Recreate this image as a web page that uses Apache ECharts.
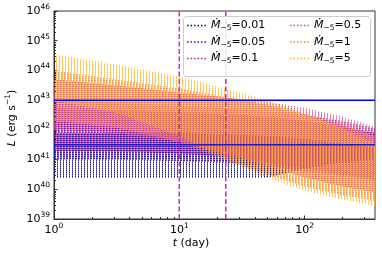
<!DOCTYPE html>
<html><head><meta charset="utf-8">
<script src="https://cdn.jsdelivr.net/npm/echarts@6/dist/echarts.min.js"></script>
<style>html,body{margin:0;padding:0;background:#fff}#c{width:382px;height:259px}</style>
</head><body><div id="c"></div>
<script>
// ---- data ----
const times = [1, 3, 10, 23, 50, 100, 200, 365];            // t (day)
const mdotLabels = ['0.01', '0.05', '0.1', '0.5', '1', '5'];   // Mdot_-5 values
// upper / lower envelope of each family of light curves, L in erg/s
const top_001 = [8e41, 8e41, 8e41, 7e41, 6.3e41, 5e41, 3.5e41, 2.5e41];
const bot_001 = [2.4e40, 2.4e40, 2.4e40, 2.4e40, 2.4e40, 5e40, 8e40, 1e41];
const top_005 = [5e42, 4.5e42, 4e42, 3.5e42, 2.8e42, 2e42, 1.25e42, 8e41];
const bot_005 = [1e41, 1e41, 9e40, 8e40, 6.3e40, 4e40, 2.8e40, 2e40];
const top_01  = [1e43, 8e42, 6.3e42, 5.2e42, 4.2e42, 3.2e42, 2e42, 1.15e42];
const bot_01  = [2e41, 1.9e41, 1.6e41, 1.25e41, 8e40, 5e40, 3.2e40, 2e40];
const top_05  = [5e43, 3.2e43, 1.8e43, 1.25e43, 9e42, 5.6e42, 2.8e42, 1.25e42];
const bot_05  = [1e42, 8e41, 4e41, 1.6e41, 6.3e40, 2.5e40, 1.25e40, 8e39];
const top_1   = [1e44, 5e43, 2.5e43, 1.3e43, 7e42, 3.5e42, 1.5e42, 6e41];
const bot_1   = [2e42, 1.25e42, 4e41, 1e41, 3.2e40, 1.25e40, 6.3e39, 4e39];
const top_5   = [3.5e44, 1.6e44, 6.3e43, 2.5e43, 1e43, 3.5e42, 1.1e42, 3.5e41];
const bot_5   = [1e43, 4e42, 6.3e41, 1e41, 2.5e40, 9e39, 4.5e39, 2.7e39];
const hLineValues = [1e43, 3.16e41];   // horizontal reference luminosities
const vLineValues = [10, 23.5];        // vertical reference times (day)
const xRange = [1, 365];
const yRange = [1e39, 1e46];

const tops = [top_001, top_005, top_01, top_05, top_1, top_5];
const bots = [bot_001, bot_005, bot_01, bot_05, bot_1, bot_5];
const colors = ['#0d0887', '#5c01a6', '#b52f9c', '#dc5580', '#f2844b', '#fdb32f'];
// column of each family inside the 3x2 dotted-stripe pattern
const cols = [0, 1, 2, 0, 1, 2];

// minor tick positions (axis decoration)
const xMinorTicks = [], yMinorTicks = [];
for (let d = 1; d <= 100; d *= 10) for (let m = 2; m <= 9; m++) if (m * d < xRange[1]) xMinorTicks.push(m * d);
for (let e = 39; e < 46; e++) for (let m = 2; m <= 9; m++) yMinorTicks.push(m * Math.pow(10, e));

function makePattern(color, col) {
  const cv = document.createElement('canvas');
  cv.width = 3; cv.height = 2;
  const ctx = cv.getContext('2d');
  ctx.fillStyle = color;
  ctx.globalAlpha = 0.9; ctx.fillRect(col, 0, 1, 1);
  ctx.globalAlpha = 0.55; ctx.fillRect(col, 1, 1, 1);
  return {type: 'pattern', image: cv, repeat: 'repeat'};
}

function bandSeries(i) {
  const pat = makePattern(colors[i], cols[i]);
  const tp = tops[i], bt = bots[i];
  return {
    type: 'custom', name: mdotLabels[i], coordinateSystem: 'cartesian2d',
    itemStyle: {color: colors[i]}, silent: true, clip: true, z: 2,
    data: [[times[0], tp[0]]],
    renderItem: function (params, api) {
      const pts = [];
      for (let k = 0; k < times.length; k++) pts.push(api.coord([times[k], tp[k]]));
      for (let k = times.length - 1; k >= 0; k--) pts.push(api.coord([times[k], bt[k]]));
      return {type: 'polygon', shape: {points: pts}, style: {fill: pat, stroke: null}};
    }
  };
}

function decadeLabel(v) {
  const l = Math.log10(v), e = Math.round(l);
  if (Math.abs(l - e) > 1e-6) return '';
  return '{b|10}{s|' + e + '}';
}
const tickRich = {
  b: {fontSize: 11, fontFamily: 'DejaVu Sans', color: '#000', lineHeight: 16},
  s: {fontSize: 7.5, fontFamily: 'DejaVu Sans', color: '#000', lineHeight: 8, verticalAlign: 'top'}
};
const legendRich = {
  m: {fontSize: 11, fontFamily: 'DejaVu Sans', fontStyle: 'italic', color: '#000', lineHeight: 14},
  s: {fontSize: 7.5, fontFamily: 'DejaVu Sans', color: '#000', lineHeight: 8, verticalAlign: 'bottom'},
  n: {fontSize: 11, fontFamily: 'DejaVu Sans', color: '#000', lineHeight: 14}
};
const dotIcon = 'path://M0,0h1.6v1.6h-1.6zM3.6,0h1.6v1.6h-1.6zM7.2,0h1.6v1.6h-1.6zM10.8,0h1.6v1.6h-1.6zM14.4,0h1.6v1.6h-1.6zM18,0h1.6v1.6h-1.6z';
function legendCfg(names, left) {
  return {
    data: names.map(n => ({name: n, icon: dotIcon})),
    orient: 'vertical', left: left, top: 20, padding: 0,
    itemWidth: 19, itemHeight: 2, itemGap: 4, itemStyle: {borderWidth: 0},
    formatter: n => '{m|Ṁ}{s|−5}{n|=' + n + '}',
    textStyle: {rich: legendRich}, z: 10, selectedMode: false
  };
}

const axisCommon = {
  type: 'log', logBase: 10,
  axisLine: {show: true, onZero: false, lineStyle: {color: '#333', width: 1}},
  axisTick: {show: true, inside: true, length: 3.5, lineStyle: {color: '#333'}},
  minorTick: {show: false},
  splitLine: {show: false}, minorSplitLine: {show: false},
};

const series = [];
for (let i = 0; i < 6; i++) series.push(bandSeries(i));
hLineValues.forEach((v, i) => series.push({
  type: 'line', data: [[xRange[0], v], [xRange[1], v]], symbol: 'none', silent: true, z: 4,
  lineStyle: {color: i === 0 ? '#0000ff' : '#1d1dc8', width: 1.5}
}));
vLineValues.forEach(v => series.push({
  type: 'line', data: [[v, yRange[0]], [v, yRange[1]]], symbol: 'none', silent: true, z: 4,
  lineStyle: {color: '#d41ed4', width: 1.5, type: [5, 2.5]}
}));
// minor ticks drawn through the axis scales
series.push({
  type: 'custom', coordinateSystem: 'cartesian2d', silent: true, clip: false, z: 5,
  data: xMinorTicks.map(v => [v, yRange[0]]),
  renderItem: function (params, api) {
    const p = api.coord([api.value(0), yRange[0]]);
    const x = Math.round(p[0]) + 0.5;
    return {type: 'line', shape: {x1: x, y1: p[1], x2: x, y2: p[1] - 2}, style: {stroke: '#333', lineWidth: 1}};
  }
});
series.push({
  type: 'custom', coordinateSystem: 'cartesian2d', silent: true, clip: false, z: 5,
  data: yMinorTicks.map(v => [xRange[0], v]),
  renderItem: function (params, api) {
    const p = api.coord([xRange[0], api.value(1)]);
    const y = Math.round(p[1]) + 0.5;
    return {type: 'line', shape: {x1: p[0], y1: y, x2: p[0] + 2, y2: y}, style: {stroke: '#333', lineWidth: 1}};
  }
});

const chart = echarts.init(document.getElementById('c'), null, {renderer: 'canvas'});
chart.setOption({
  animation: false,
  backgroundColor: '#fff',
  grid: {left: 54, right: 7, top: 11, bottom: 40, show: true, borderColor: '#333', borderWidth: 1, backgroundColor: 'transparent'},
  xAxis: Object.assign({}, axisCommon, {
    min: xRange[0], max: xRange[1],
    axisLabel: {formatter: decadeLabel, margin: 3, rich: tickRich, showMaxLabel: false}
  }),
  yAxis: Object.assign({}, axisCommon, {
    min: yRange[0], max: yRange[1], splitNumber: 7,
    axisLabel: {formatter: decadeLabel, margin: 4, rich: tickRich}
  }),
  legend: [legendCfg(mdotLabels.slice(0, 3), 187), legendCfg(mdotLabels.slice(3), 290)],
  graphic: [
    {type: 'rect', left: 183, top: 16, z: 9, shape: {width: 187, height: 60, r: 3},
     style: {fill: 'rgba(255,255,255,0.82)', stroke: '#cccccc', lineWidth: 1}},
    {type: 'text', left: 'center', top: 238, z: 9,
     style: {text: '{i|t} (day)', rich: {i: {fontStyle: 'italic', fontSize: 11, fontFamily: 'DejaVu Sans'}},
             fontSize: 11, fontFamily: 'DejaVu Sans', fill: '#000'}},
    {type: 'text', x: 12, y: 118, rotation: Math.PI / 2, z: 9,
     style: {text: '{i|L} (erg s{s|−1})', align: 'center', verticalAlign: 'middle',
             fontSize: 11, fontFamily: 'DejaVu Sans', fill: '#000',
             rich: {i: {fontStyle: 'italic', fontSize: 11, fontFamily: 'DejaVu Sans', lineHeight: 16},
                    s: {fontSize: 7.5, fontFamily: 'DejaVu Sans', lineHeight: 8, verticalAlign: 'top'}}}}
  ],
  series: series
});
</script></body></html>
